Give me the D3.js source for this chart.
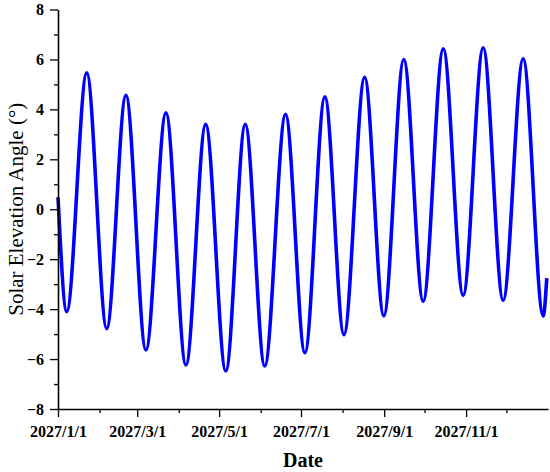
<!DOCTYPE html>
<html>
<head>
<meta charset="utf-8">
<script src="https://cdn.jsdelivr.net/npm/d3@7"></script>
<style>
  html, body { margin: 0; padding: 0; background: #fff; }
  svg { display: block; }
  text { font-family: "Liberation Serif", "Times New Roman", serif; }
</style>
</head>
<body>
<svg id="chart" width="550" height="472"></svg>
<script>
// ---- data (extremes of the curve) ----
const times = [
  "2027-01-01T00:00", "2027-01-07T12:00", "2027-01-22T10:00", "2027-02-06T07:00",
  "2027-02-20T14:00", "2027-03-07T12:00", "2027-03-22T10:00", "2027-04-06T07:00",
  "2027-04-21T00:00", "2027-05-06T00:00", "2027-05-20T12:00", "2027-06-04T00:00",
  "2027-06-19T12:00", "2027-07-03T22:00", "2027-07-18T19:00", "2027-08-02T00:00",
  "2027-08-17T10:00", "2027-08-31T17:00", "2027-09-15T14:00", "2027-09-30T00:00",
  "2027-10-15T00:00", "2027-10-29T19:00", "2027-11-13T17:00", "2027-11-28T14:00",
  "2027-12-13T12:00", "2027-12-28T10:00", "2027-12-31T02:00"
];
const elevation = [
  0.48, -4.10, 5.46, -4.78,
  4.56, -5.64, 3.86, -6.24,
  3.40, -6.48, 3.40, -6.28,
  3.80, -5.75, 4.50, -5.02,
  5.28, -4.27, 6.00, -3.69,
  6.43, -3.45, 6.47, -3.65,
  6.03, -4.27, -2.76
];
const xMajorTicks = ["2027-01-01", "2027-03-01", "2027-05-01", "2027-07-01", "2027-09-01", "2027-11-01"];
const xMinorTicks = ["2027-02-01", "2027-04-01", "2027-06-01", "2027-08-01", "2027-10-01", "2027-12-01"];
const xDomain = ["2027-01-01", "2028-01-01"];
const yMajorTicks = [-8, -6, -4, -2, 0, 2, 4, 6, 8];
const yMinorTicks = [-7, -5, -3, -1, 1, 3, 5, 7];
const xTitle = "Date";
const yTitle = "Solar Elevation Angle (°)";

// ---- drawing ----
(function () {
const parse = s => new Date(s.length > 10 ? s + ":00Z" : s + "T00:00:00Z");
const data = times.map((t, i) => ({ t: parse(t), v: elevation[i] }));

const svg = d3.select("#chart");
const mLeft = 58, mRight = 548, mTop = 9.5, mBottom = 409;

const x = d3.scaleUtc().domain(xDomain.map(parse)).range([mLeft, mRight]);
const y = d3.scaleLinear().domain([-8, 8]).range([mBottom, mTop]);

const fmtDate = d => `${d.getUTCFullYear()}/${d.getUTCMonth() + 1}/${d.getUTCDate()}`;

// curve
const line = d3.line()
  .x(d => x(d.t))
  .y(d => y(d.v))
  .curve(d3.curveMonotoneX);

svg.append("path")
  .datum(data)
  .attr("d", line)
  .attr("fill", "none")
  .attr("stroke", "#0000ff")
  .attr("stroke-width", 3.6)
  .attr("stroke-linejoin", "round");

// x axis
const gx = svg.append("g").attr("transform", `translate(0,${mBottom})`);
gx.call(d3.axisBottom(x).tickValues(xMajorTicks.map(parse)).tickFormat(fmtDate)
  .tickSizeInner(8).tickSizeOuter(0).tickPadding(9));
const gxm = svg.append("g").attr("transform", `translate(0,${mBottom})`);
gxm.call(d3.axisBottom(x).tickValues(xMinorTicks.map(parse)).tickFormat("")
  .tickSizeInner(4).tickSizeOuter(0));
gxm.select(".domain").remove();

// y axis
const gy = svg.append("g").attr("transform", `translate(${mLeft},0)`);
gy.call(d3.axisLeft(y).tickValues(yMajorTicks).tickSizeInner(8).tickSizeOuter(0).tickPadding(6));
const gym = svg.append("g").attr("transform", `translate(${mLeft},0)`);
gym.call(d3.axisLeft(y).tickValues(yMinorTicks).tickFormat("").tickSizeInner(4).tickSizeOuter(0));
gym.select(".domain").remove();

svg.selectAll(".domain").attr("stroke", "#000").attr("stroke-width", 1.6);
svg.selectAll(".tick line").attr("stroke", "#000").attr("stroke-width", 1.3);
svg.selectAll(".tick text")
  .attr("fill", "#000")
  .style("font-family", '"Liberation Serif", "Times New Roman", serif')
  .style("font-size", "16px")
  .style("font-weight", "bold");

// titles
svg.append("text")
  .attr("x", (mLeft + mRight) / 2)
  .attr("y", 467)
  .attr("text-anchor", "middle")
  .style("font-size", "20px")
  .style("font-weight", "bold")
  .text(xTitle);

svg.append("text")
  .attr("transform", `translate(23,${(mTop + mBottom) / 2}) rotate(-90)`)
  .attr("text-anchor", "middle")
  .style("font-size", "21px")
  .text(yTitle);
})();
</script>
</body>
</html>
